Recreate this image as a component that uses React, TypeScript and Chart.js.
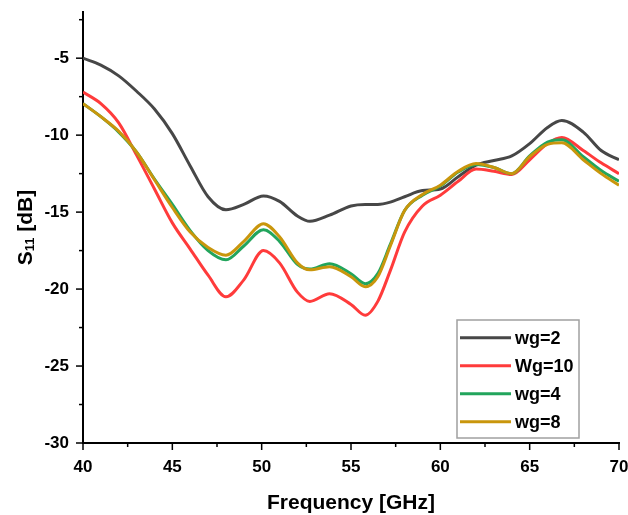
import React, { useEffect, useRef } from "react";
import { Chart, registerables } from "chart.js";

Chart.register(...registerables);

const FREQ = [40, 41, 42, 43, 44, 45, 46, 47, 48, 49, 50.1, 51, 52, 52.7, 53.8, 55, 55.8, 56.5, 57.2, 58, 59, 60, 61, 62, 63, 64, 65, 66, 66.8, 68, 69, 70];

const WG2 = [-5.0, -5.45, -6.15, -7.15, -8.3, -9.9, -12.0, -14.0, -14.85, -14.5, -13.95, -14.3, -15.25, -15.6, -15.2, -14.6, -14.5, -14.5, -14.35, -14.0, -13.6, -13.5, -12.7, -11.95, -11.65, -11.35, -10.55, -9.5, -9.05, -9.8, -11.0, -11.6];
const WG10 = [-7.2, -7.95, -9.2, -11.3, -13.5, -15.7, -17.4, -19.1, -20.5, -19.4, -17.5, -18.3, -20.2, -20.8, -20.3, -21.0, -21.7, -20.8, -18.8, -16.3, -14.6, -13.9, -13.0, -12.2, -12.35, -12.55, -11.6, -10.55, -10.15, -11.0, -11.8, -12.5];
const WG4 = [-7.95, -8.8, -9.8, -11.1, -12.85, -14.5, -16.2, -17.5, -18.1, -17.2, -16.15, -16.9, -18.4, -18.7, -18.35, -19.0, -19.65, -19.0, -17.1, -14.9, -13.9, -13.3, -12.4, -11.9, -12.1, -12.5, -11.35, -10.45, -10.3, -11.4, -12.3, -13.0];
const WG8 = [-7.95, -8.8, -9.75, -11.1, -12.9, -14.7, -16.3, -17.3, -17.8, -16.9, -15.75, -16.6, -18.3, -18.75, -18.55, -19.2, -19.85, -19.2, -17.2, -14.9, -13.85, -13.25, -12.35, -11.85, -12.1, -12.5, -11.4, -10.6, -10.5, -11.6, -12.5, -13.25];

const SERIES_LABELS = ["wg=2", "Wg=10", "wg=4", "wg=8"];
const SERIES_COLORS = ["#474747", "#ff3b3b", "#22a55c", "#c9960c"];
const SERIES_VALUES = [WG2, WG10, WG4, WG8];
const DRAW_ORDER = [3, 2, 1, 0];

const X_TICKS = [40, 45, 50, 55, 60, 65, 70];
const X_MINOR = [42.5, 47.5, 52.5, 57.5, 62.5, 67.5];
const Y_TICKS = [-30, -25, -20, -15, -10, -5];
const Y_MINOR = [-27.5, -22.5, -17.5, -12.5, -7.5, -2.5];

const FONT = "'Liberation Sans', Arial, sans-serif";

const decorPlugin = {
  id: "decor",
  afterDraw(chart: any) {
    const ctx = chart.ctx as CanvasRenderingContext2D;
    const { left, right, top, bottom } = chart.chartArea;
    const xs = chart.scales.x;
    const ys = chart.scales.y;
    ctx.save();
    ctx.strokeStyle = "#000";
    ctx.lineWidth = 1.5;
    const tick = (x1: number, y1: number, x2: number, y2: number) => {
      ctx.beginPath();
      ctx.moveTo(x1, y1);
      ctx.lineTo(x2, y2);
      ctx.stroke();
    };
    X_TICKS.forEach((v) => { const p = xs.getPixelForValue(v); tick(p, bottom, p, bottom + 7); });
    X_MINOR.forEach((v) => { const p = xs.getPixelForValue(v); tick(p, bottom, p, bottom + 4); });
    Y_TICKS.forEach((v) => { const p = ys.getPixelForValue(v); tick(left, p, left - 7, p); });
    Y_MINOR.forEach((v) => { const p = ys.getPixelForValue(v); tick(left, p, left - 4, p); });

    // x title
    ctx.fillStyle = "#000";
    ctx.font = `bold 21px ${FONT}`;
    ctx.textAlign = "center";
    ctx.textBaseline = "alphabetic";
    ctx.fillText("Frequency [GHz]", (left + right) / 2, 509);

    // y title with subscript
    ctx.save();
    ctx.translate(32, (top + bottom) / 2);
    ctx.rotate(-Math.PI / 2);
    ctx.textAlign = "left";
    const big = `bold 21px ${FONT}`;
    const small = `bold 13px ${FONT}`;
    ctx.font = big;
    const wS = ctx.measureText("S").width;
    const wRest = ctx.measureText(" [dB]").width;
    ctx.font = small;
    const wSub = ctx.measureText("11").width;
    let x0 = -(wS + wSub + wRest) / 2;
    ctx.font = big;
    ctx.fillText("S", x0, 0);
    x0 += wS;
    ctx.font = small;
    ctx.fillText("11", x0, 2);
    x0 += wSub;
    ctx.font = big;
    ctx.fillText(" [dB]", x0, 0);
    ctx.restore();

    // legend
    const bx = right - 162, by = bottom - 123, bw = 122, bh = 118;
    ctx.fillStyle = "#fff";
    ctx.fillRect(bx, by, bw, bh);
    ctx.strokeStyle = "#a0a0a0";
    ctx.lineWidth = 1.5;
    ctx.strokeRect(bx, by, bw, bh);
    ctx.font = `bold 18px ${FONT}`;
    ctx.textAlign = "left";
    ctx.textBaseline = "middle";
    chart.data.datasets.forEach((ds: any, i: number) => {
      const ry = by + 17.7 + i * 28;
      ctx.strokeStyle = ds.borderColor;
      ctx.lineWidth = 3;
      ctx.beginPath();
      ctx.moveTo(bx + 3, ry);
      ctx.lineTo(bx + 54, ry);
      ctx.stroke();
      ctx.fillStyle = "#000";
      ctx.fillText(ds.label, bx + 58, ry + 1);
    });
    ctx.restore();
  },
};

export default function App() {
  const ref = useRef<HTMLCanvasElement | null>(null);
  useEffect(() => {
    if (!ref.current) return;
    const chart = new Chart(ref.current, {
      type: "line",
      data: {
        datasets: SERIES_LABELS.map((label, i) => ({
          label,
          data: FREQ.map((f, j) => ({ x: f, y: SERIES_VALUES[i][j] })),
          borderColor: SERIES_COLORS[i],
          backgroundColor: SERIES_COLORS[i],
          borderWidth: 3,
          pointRadius: 0,
          cubicInterpolationMode: "monotone" as const,
          order: DRAW_ORDER[i],
          fill: false,
        })),
      },
      options: {
        animation: false,
        responsive: false,
        maintainAspectRatio: false,
        layout: { padding: { top: 12, right: 9, left: 0, bottom: 0 } },
        plugins: { legend: { display: false }, tooltip: { enabled: false } },
        scales: {
          x: {
            type: "linear",
            min: 40,
            max: 70,
            afterBuildTicks: (s: any) => { s.ticks = X_TICKS.map((v) => ({ value: v })); },
            afterFit: (s: any) => { s.height = 72; s.paddingLeft = 0; s.paddingRight = 0; },
            grid: { display: true, drawOnChartArea: false, drawTicks: false },
            border: { display: true, color: "#000", width: 2 },
            ticks: { color: "#000", padding: 14, font: { family: FONT, size: 17, weight: "bold" }, maxRotation: 0 },
          },
          y: {
            type: "linear",
            min: -30,
            max: -2,
            afterBuildTicks: (s: any) => { s.ticks = Y_TICKS.map((v) => ({ value: v })); },
            afterFit: (s: any) => { s.width = 83; s.paddingTop = 0; s.paddingBottom = 0; },
            grid: { display: true, drawOnChartArea: false, drawTicks: false },
            border: { display: true, color: "#000", width: 2 },
            ticks: { color: "#000", padding: 14, font: { family: FONT, size: 17, weight: "bold" } },
          },
        },
      },
      plugins: [decorPlugin],
    });
    return () => chart.destroy();
  }, []);
  return (
    <div style={{ position: "absolute", left: 0, top: 0, width: 628, height: 515, background: "#fff" }}>
      <canvas ref={ref} width={628} height={515} />
    </div>
  );
}
